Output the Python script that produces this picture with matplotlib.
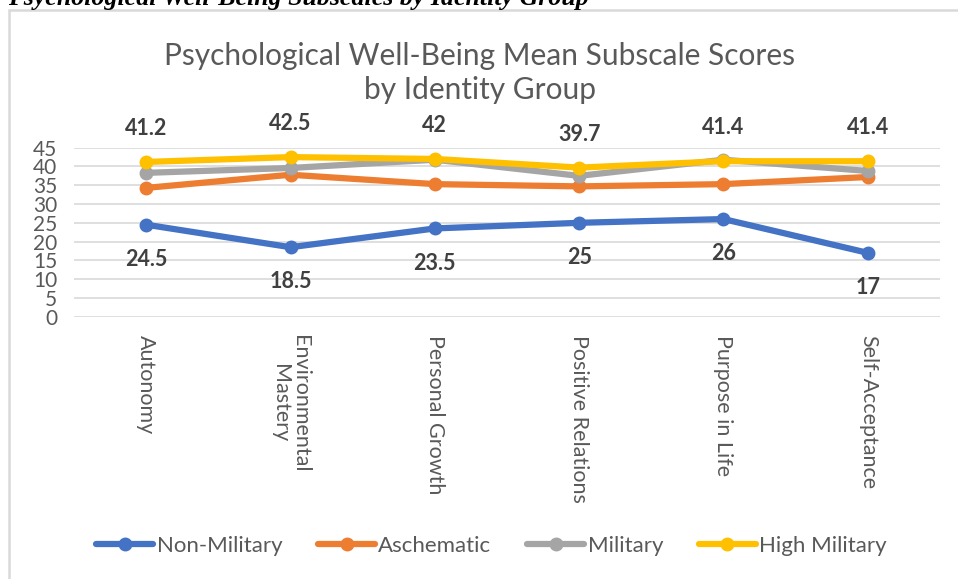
import matplotlib
matplotlib.use("Agg")
import matplotlib.pyplot as plt
from matplotlib.patches import Rectangle

categories = ["Autonomy", "Environmental\nMastery", "Personal Growth",
              "Positive Relations", "Purpose in Life", "Self-Acceptance"]
series_names = ["Non-Military", "Aschematic", "Military", "High Military"]
non_military = [24.5, 18.5, 23.5, 25, 26, 17]
aschematic = [34.3, 37.8, 35.3, 34.7, 35.3, 37.2]
military = [38.3, 39.6, 41.8, 37.5, 41.8, 38.8]
high_military = [41.2, 42.5, 42, 39.7, 41.4, 41.4]
yticks = [0, 5, 10, 15, 20, 25, 30, 35, 40, 45]

colors = ["#4472C4", "#ED7D31", "#A5A5A5", "#FFC000"]
FONT = "Lato"
W, H = 958, 579

fig = plt.figure(figsize=(W / 100, H / 100), dpi=100)
fig.patch.set_facecolor("white")

# outer chart border (extends beyond right and bottom)
fig.patches.append(Rectangle((9 / W, -0.05), 1.1, 1 - 10 / H + 0.05,
                             transform=fig.transFigure, fill=False,
                             edgecolor="#d9d9d9", linewidth=1.8))

# caption cut off at top
fig.text(8 / W, 1 - 5 / H, "Psychological Well-Being Subscales by Identity Group",
         family="Liberation Serif", style="italic", weight="bold",
         fontsize=18.6, color="black", ha="left", va="baseline")

ax = fig.add_axes([74 / W, 1 - 316.7 / H, 866 / W, 169 / H])
x = list(range(len(categories)))
for vals, name, c in zip([non_military, aschematic, military, high_military],
                         series_names, colors):
    ax.plot(x, vals, color=c, linewidth=4.5, marker="o", markersize=9,
            label=name, solid_capstyle="round")

for xi, v in zip(x, high_military):
    ax.annotate(f"{v:g}", (xi, v), xytext=(0, 24), textcoords="offset points",
                ha="center", va="center", fontsize=15.5, fontweight="bold",
                color="#404040", family=FONT)
for xi, v in zip(x, non_military):
    ax.annotate(f"{v:g}", (xi, v), xytext=(0, -25), textcoords="offset points",
                ha="center", va="center", fontsize=15.5, fontweight="bold",
                color="#404040", family=FONT)

ax.set_xlim(-0.5, len(categories) - 0.5)
ax.set_ylim(0, 45)
ax.set_yticks(yticks)
ax.set_yticklabels([str(t) for t in yticks], fontsize=15, color="#595959",
                   family=FONT)
ax.set_xticks(x)
ax.set_xticklabels(categories, rotation=270, fontsize=15.5, color="#595959",
                   family=FONT, ha="center", va="top", linespacing=1.0)
ax.tick_params(axis="both", length=0)
ax.tick_params(axis="y", pad=12)
ax.tick_params(axis="x", pad=13)
ax.grid(axis="y", color="#d9d9d9", linewidth=1.2)
ax.set_axisbelow(True)
for s in ax.spines.values():
    s.set_visible(False)
ax.set_facecolor("none")

fig.text(480 / W, 1 - 73 / H, "Psychological Well-Being Mean Subscale Scores\nby Identity Group",
         ha="center", va="center", fontsize=21.5, color="#595959", family=FONT,
         linespacing=1.3)

leg = fig.legend(loc="center", bbox_to_anchor=(491.5 / W, 1 - 546 / H), ncol=4,
                 frameon=False, prop={"family": FONT, "size": 16},
                 handlelength=2.57, columnspacing=1.6, handletextpad=0.15)
for t in leg.get_texts():
    t.set_color("#595959")

fig.savefig("out.png", dpi=100)
